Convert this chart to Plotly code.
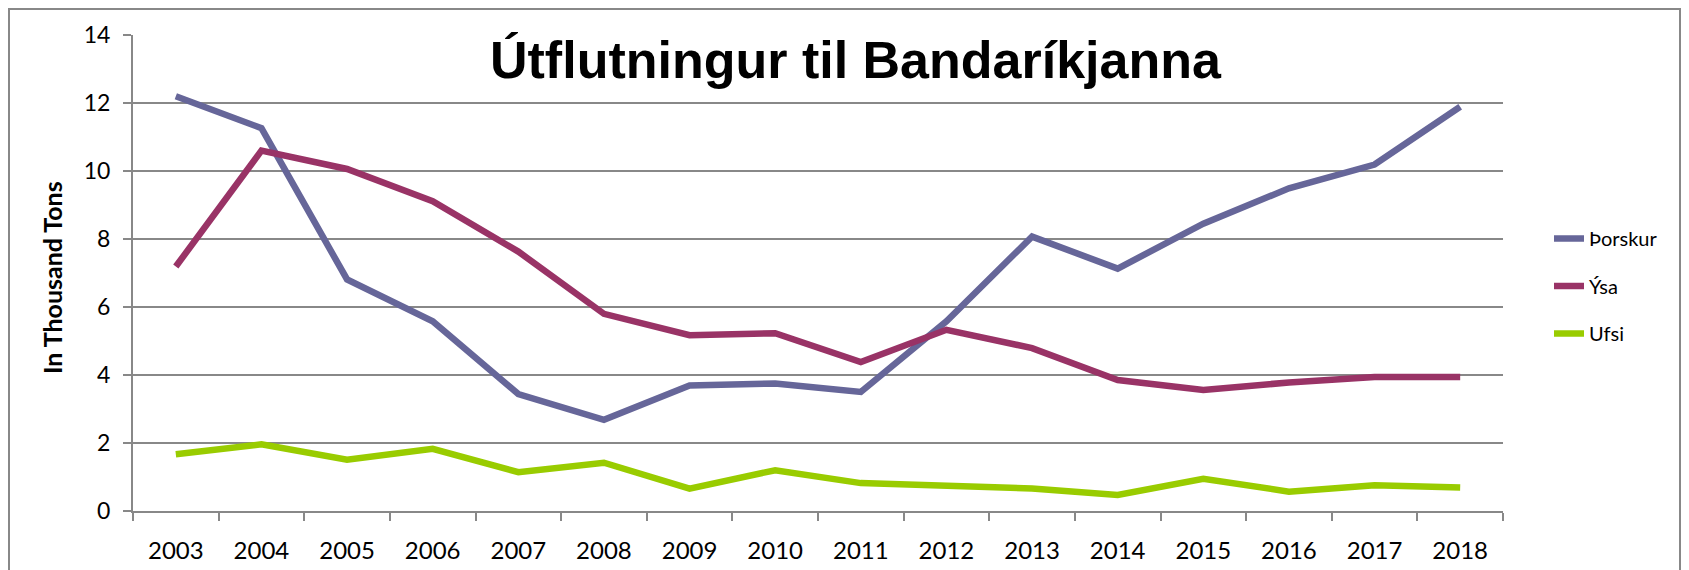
import plotly.graph_objects as go

years = [str(y) for y in range(2003, 2019)]
thorskur = [12.2, 11.26, 6.81, 5.58, 3.44, 2.68, 3.69, 3.75, 3.5, 5.58, 8.07, 7.13, 8.45, 9.49, 10.19, 11.89]
ysa = [7.19, 10.6, 10.06, 9.11, 7.63, 5.8, 5.17, 5.23, 4.38, 5.33, 4.79, 3.85, 3.56, 3.78, 3.94, 3.94]
ufsi = [1.67, 1.96, 1.51, 1.83, 1.14, 1.42, 0.66, 1.2, 0.82, 0.73, 0.66, 0.47, 0.95, 0.57, 0.76, 0.69]

series_names = ["Þorskur", "Ýsa", "Ufsi"]
series_values = [thorskur, ysa, ufsi]
colors = ["#666699", "#993366", "#99CC00"]

title_text = "Útflutningur til Bandaríkjanna"
y_title = "In Thousand Tons"
y_ticks = [0, 2, 4, 6, 8, 10, 12, 14]

# page body has an 8px default margin; figure sized to fit inside the window
OFF = 8
W, H = 1681, 562
L, T = 133 - OFF, 35 - OFF
R = W - (1503 - OFF)
B = H - (511 - OFF)
pw, ph = W - L - R, H - T - B

def px(x_page):
    return (x_page - OFF - L) / pw

def py(y_page):
    return (H - B - (y_page - OFF)) / ph

fig = go.Figure()
for i, (name, vals, col) in enumerate(zip(series_names, series_values, colors)):
    fig.add_trace(go.Scatter(
        x=years, y=vals, name=name, mode="lines",
        line=dict(color=col, width=6.5),
        legendgroup=f"g{i}",
    ))

font_main = "Lato, Open Sans, sans-serif"

fig.update_layout(
    width=W, height=H,
    margin=dict(l=L, r=R, t=T, b=B, autoexpand=False),
    paper_bgcolor="white", plot_bgcolor="white",
    showlegend=True,
    legend=dict(
        x=px(1549), y=py(219), xanchor="left", yanchor="top",
        font=dict(family=font_main, size=20, color="#000"),
        traceorder="grouped", tracegroupgap=18.5,
        bgcolor="rgba(0,0,0,0)",
    ),
    xaxis=dict(
        type="category", range=[-0.5, 15.5],
        showline=True, linecolor="#888888", linewidth=2,
        ticks="outside", ticklen=8, tickcolor="#888888", tickwidth=2,
        tickson="boundaries", showgrid=False,
        tickfont=dict(family=font_main, size=24, color="#000"),
        zeroline=False, automargin=False, ticklabelstandoff=17,
    ),
    yaxis=dict(
        range=[0, 14], tickvals=y_ticks,
        showline=True, linecolor="#888888", linewidth=2,
        ticks="outside", ticklen=8, tickcolor="#888888", tickwidth=2,
        showgrid=True, gridcolor="#888888", gridwidth=2,
        tickfont=dict(family=font_main, size=23, color="#000"),
        zeroline=False, automargin=False, ticklabelstandoff=8,
    ),
    annotations=[
        dict(text=f"<b>{title_text}</b>", x=px(856), y=py(60), xref="paper", yref="paper",
             showarrow=False, xanchor="center", yanchor="middle",
             font=dict(family="Liberation Sans, Arial, sans-serif", size=52, color="#000")),
        dict(text=f"<b>{y_title}</b>", x=px(52), y=py(278), xref="paper", yref="paper",
             showarrow=False, textangle=-90, xanchor="center", yanchor="middle",
             font=dict(family=font_main, size=25, color="#000")),
    ],
    shapes=[
        dict(type="rect", xref="paper", yref="paper",
             x0=px(9), x1=px(1680), y0=py(590), y1=py(9),
             line=dict(color="#888888", width=2), fillcolor="rgba(0,0,0,0)", layer="below"),
    ],
)

fig.write_html("out.html")
